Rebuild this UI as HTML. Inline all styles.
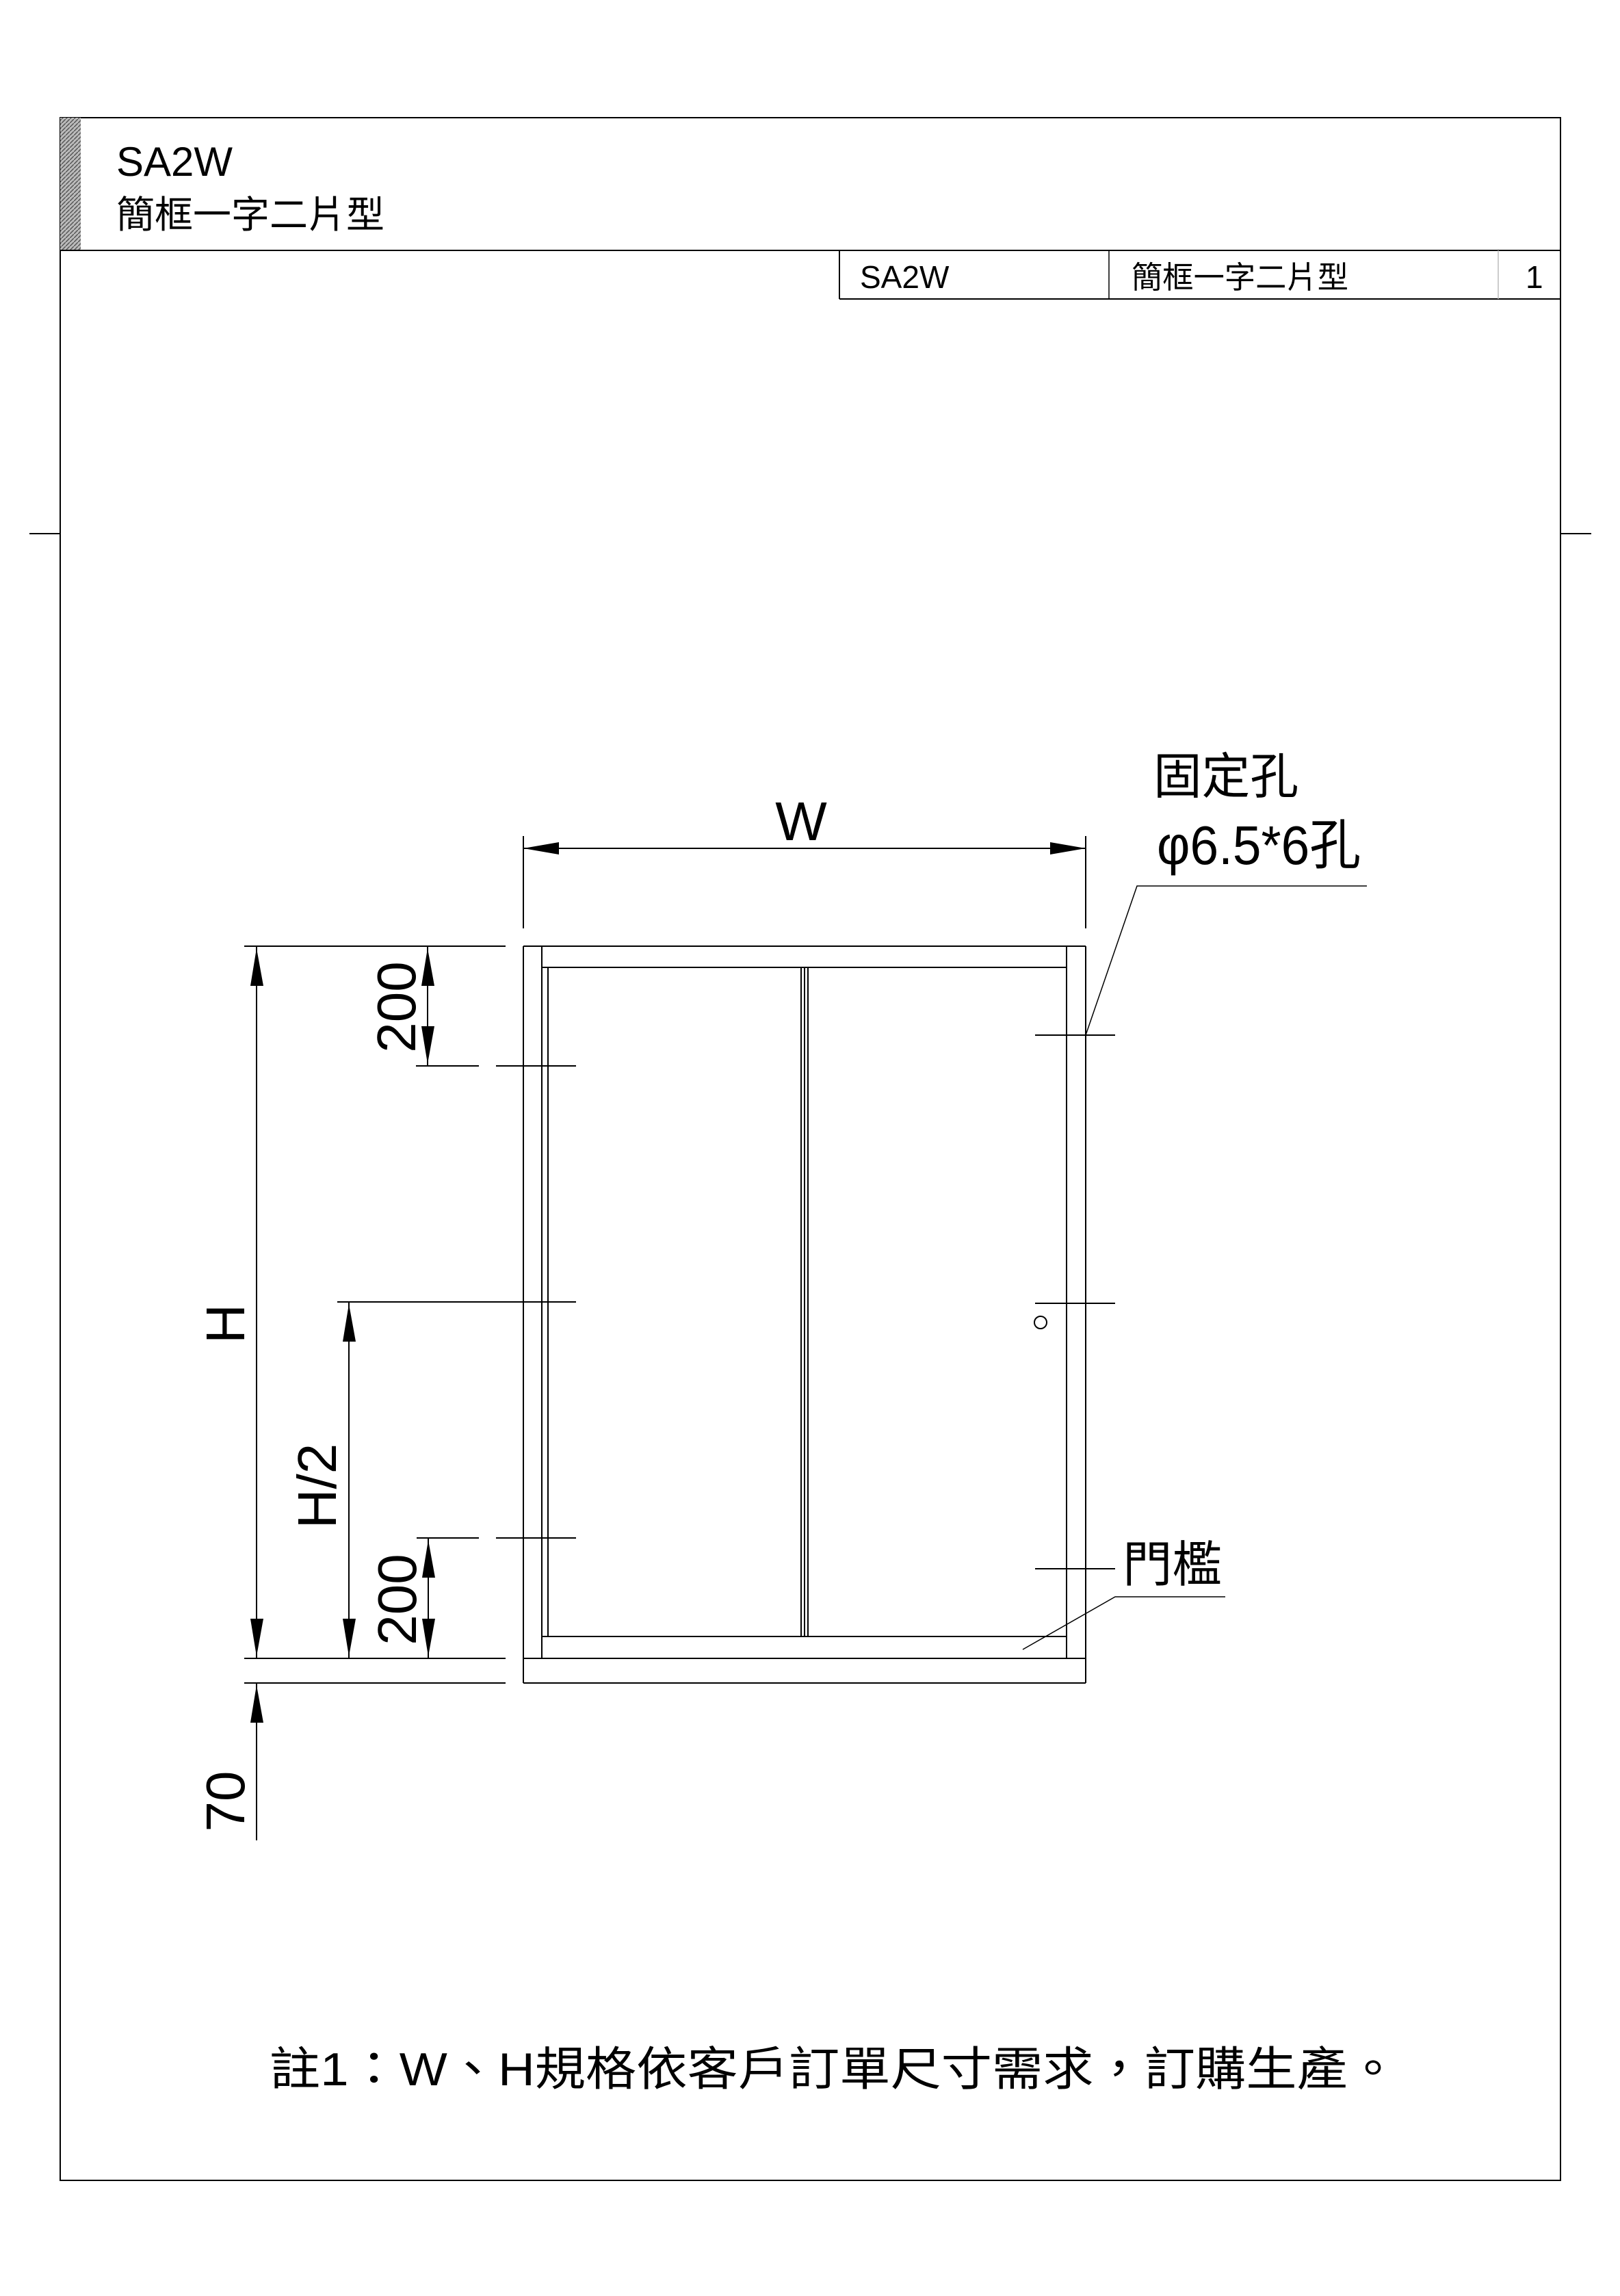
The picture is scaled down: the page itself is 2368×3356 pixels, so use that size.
<!DOCTYPE html>
<html><head><meta charset="utf-8"><style>
html,body{margin:0;padding:0;background:#fff;}
svg{display:block;}
text{font-family:"Liberation Sans","Noto Sans CJK TC",sans-serif;fill:#000;}
</style></head><body>
<svg width="2368" height="3356" viewBox="0 0 2368 3356" xmlns="http://www.w3.org/2000/svg">
<defs>
<pattern id="hp" width="6" height="6" patternUnits="userSpaceOnUse"><rect width="6" height="6" fill="#bbb"/><path d="M0 6L6 0" stroke="#555" stroke-width="1.5"/></pattern>
</defs>
<g stroke="#000" fill="none" stroke-width="2">
<rect x="88" y="172" width="2193" height="3015"/>
<rect x="88" y="172" width="30" height="194" fill="url(#hp)" stroke="none"/>
<line x1="88" y1="366" x2="2281" y2="366"/>
<line x1="1227" y1="366" x2="1227" y2="437"/>
<line x1="1227" y1="437" x2="2281" y2="437"/>
<line x1="1621" y1="366" x2="1621" y2="437" stroke-width="1.5"/>
<line x1="2190" y1="366" x2="2190" y2="437" stroke="#bbb" stroke-width="1.5"/>
<line x1="43" y1="780" x2="88" y2="780"/>
<line x1="2281" y1="780" x2="2326" y2="780"/>
<line x1="765" y1="1383" x2="1587" y2="1383"/>
<line x1="765" y1="1383" x2="765" y2="2460"/>
<line x1="1587" y1="1383" x2="1587" y2="2460"/>
<line x1="765" y1="2424" x2="1587" y2="2424"/>
<line x1="765" y1="2460" x2="1587" y2="2460"/>
<line x1="792" y1="1383" x2="792" y2="2424"/>
<line x1="1559" y1="1383" x2="1559" y2="2424"/>
<line x1="792" y1="1414" x2="1559" y2="1414"/>
<line x1="792" y1="2392" x2="1559" y2="2392"/>
<line x1="801" y1="1414" x2="801" y2="2392"/>
<line x1="1171" y1="1414" x2="1171" y2="2392"/>
<line x1="1176" y1="1414" x2="1176" y2="2392"/>
<line x1="1181" y1="1414" x2="1181" y2="2392"/>
<circle cx="1521" cy="1933" r="9"/>
<line x1="765" y1="1240" x2="1587" y2="1240"/>
<line x1="765" y1="1222" x2="765" y2="1357"/>
<line x1="1587" y1="1222" x2="1587" y2="1357"/>
<line x1="357" y1="1383" x2="739" y2="1383"/>
<line x1="357" y1="2424" x2="739" y2="2424"/>
<line x1="357" y1="2460" x2="739" y2="2460"/>
<line x1="608" y1="1558" x2="700" y2="1558"/>
<line x1="725" y1="1558" x2="842" y2="1558"/>
<line x1="493" y1="1903" x2="842" y2="1903"/>
<line x1="609" y1="2248" x2="700" y2="2248"/>
<line x1="725" y1="2248" x2="842" y2="2248"/>
<line x1="1513" y1="1513" x2="1630" y2="1513"/>
<line x1="1513" y1="1905" x2="1630" y2="1905"/>
<line x1="1513" y1="2293" x2="1630" y2="2293"/>
<line x1="375" y1="1383" x2="375" y2="2424"/>
<line x1="375" y1="2460" x2="375" y2="2690"/>
<line x1="625" y1="1383" x2="625" y2="1558"/>
<line x1="510" y1="1903" x2="510" y2="2424"/>
<line x1="626" y1="2248" x2="626" y2="2424"/>
<polyline points="1587,1513 1662,1295 1998,1295" stroke-width="1.5"/>
<polyline points="1495,2411 1630,2334 1791,2334" stroke-width="1.5"/>
</g>
<g fill="#000">
<polygon points="765,1240 817,1231 817,1249"/>
<polygon points="1587,1240 1535,1231 1535,1249"/>
<polygon points="375,1386 366,1441 385,1441"/>
<polygon points="375,2421 366,2366 385,2366"/>
<polygon points="375,2463 366,2518 385,2518"/>
<polygon points="625,1386 616,1441 635,1441"/>
<polygon points="625,1555 616,1500 635,1500"/>
<polygon points="510,1906 501,1961 520,1961"/>
<polygon points="510,2421 501,2366 520,2366"/>
<polygon points="626,2251 617,2306 636,2306"/>
<polygon points="626,2421 617,2366 636,2366"/>
</g>
<text x="170" y="257" font-size="60">SA2W</text>
<text x="170" y="333" font-size="55" textLength="392" lengthAdjust="spacingAndGlyphs">簡框一字二片型</text>
<text x="1257" y="421" font-size="46">SA2W</text>
<text x="1654" y="421" font-size="45" textLength="317" lengthAdjust="spacingAndGlyphs">簡框一字二片型</text>
<text x="2230" y="421" font-size="46">1</text>
<text x="1171" y="1228" font-size="80" text-anchor="middle">W</text>
<text x="1686" y="1160" font-size="72" textLength="212" lengthAdjust="spacingAndGlyphs">固定孔</text>
<text x="1691" y="1263" font-size="80" textLength="298" lengthAdjust="spacingAndGlyphs">φ6.5*6孔</text>
<text x="1641" y="2312" font-size="72" textLength="145" lengthAdjust="spacingAndGlyphs">門檻</text>
<text transform="translate(607,1472) rotate(-90)" font-size="80" text-anchor="middle">200</text>
<text transform="translate(608,2338) rotate(-90)" font-size="80" text-anchor="middle">200</text>
<text transform="translate(357,1935) rotate(-90)" font-size="80" text-anchor="middle">H</text>
<text transform="translate(491,2172) rotate(-90)" font-size="80" text-anchor="middle">H/2</text>
<text transform="translate(357,2633) rotate(-90)" font-size="80" text-anchor="middle">70</text>
<text x="394" y="3048" font-size="68" textLength="1650" lengthAdjust="spacingAndGlyphs">註1：W、H規格依客戶訂單尺寸需求，訂購生產。</text>
</svg>
</body></html>
